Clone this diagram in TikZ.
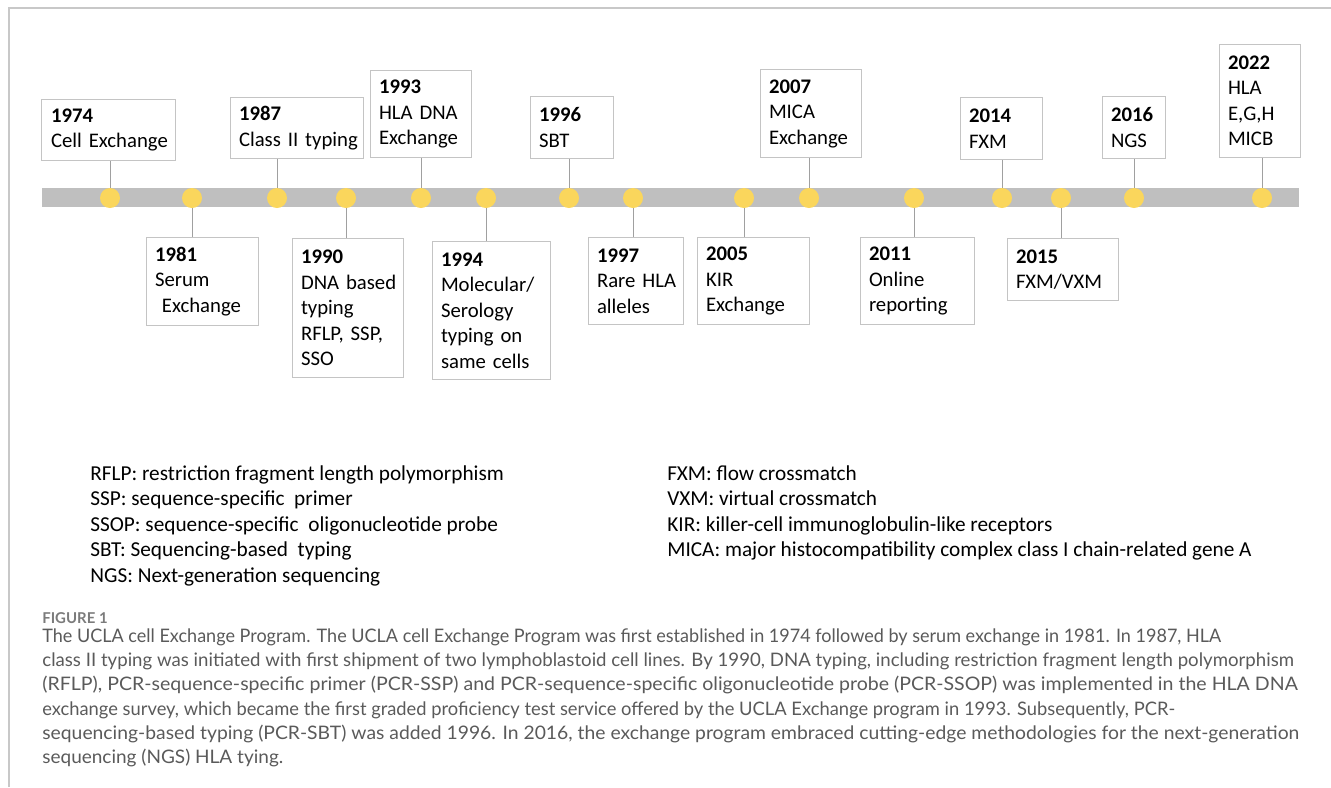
\documentclass[tikz,border=0pt]{standalone}
\usepackage{fontspec}
\setmainfont{Carlito}
\newfontfamily\capfont{Lato}
\definecolor{bargray}{RGB}{191,191,191}
\definecolor{boxgray}{RGB}{196,196,196}
\definecolor{linegray}{RGB}{160,160,160}
\definecolor{framegray}{RGB}{200,200,200}
\definecolor{dotyellow}{RGB}{250,214,92}
\definecolor{captext}{RGB}{90,90,90}
\hyphenpenalty=10000
\exhyphenpenalty=10000
\tikzset{
  evbox/.style={draw=boxgray, line width=0.2mm, fill=white, align=left,
    inner xsep=1.8mm, inner ysep=0pt, font=\fontsize{11.8pt}{14.5pt}\selectfont},
  evdot/.style={circle, fill=dotyellow, minimum size=4mm, inner sep=0pt},
  conn/.style={draw=linegray, line width=0.2mm},
  legend/.style={anchor=north west, inner sep=0pt, align=left,
    font=\fontsize{12.1pt}{14.5pt}\selectfont},
}

\begin{document}
\begin{tikzpicture}[x=0.2mm, y=-0.2mm]
    \useasboundingbox (0,0) rectangle (1331,787);
    \draw[framegray, line width=0.25mm] (9,787) -- (9,8) -- (1331,8);

    \node[fill=bargray, minimum width=251.4mm, minimum height=3.8mm, inner sep=0pt] (bar) at (670.5,197.5) {};

    \foreach \yr/\px in {1974/110, 1981/192, 1987/277, 1990/346, 1993/421, 1994/486,
        1996/569, 1997/633, 2005/744, 2007/809, 2011/914, 2014/1002, 2015/1061,
        2016/1134, 2022/1262}
        \node[evdot] (d\yr) at (\px,198) {};

    % above the bar
    \node[evbox, text width=23.0mm, minimum height=12.2mm] (b1974) at (108.5,130) {\textbf{1974}\\Cell~Exchange};
    \node[evbox, text width=23.0mm, minimum height=12.2mm] (b1987) at (296.5,128) {\textbf{1987}\\Class~II~typing};
    \node[evbox, text width=16.6mm, minimum height=17.4mm] (b1993) at (420.5,114) {\textbf{1993}\\HLA~DNA\\Exchange};
    \node[evbox, text width=13.0mm, minimum height=12.4mm] (b1996) at (571.5,127.5) {\textbf{1996}\\SBT};
    \node[evbox, text width=16.6mm, minimum height=17.6mm] (b2007) at (810.5,113.5) {\textbf{2007}\\MICA\\Exchange};
    \node[evbox, text width=12.8mm, minimum height=12.4mm] (b2014) at (1001,128.5) {\textbf{2014}\\FXM};
    \node[evbox, text width=9.0mm, minimum height=12.4mm] (b2016) at (1133.5,127.5) {\textbf{2016}\\NGS};
    \node[evbox, text width=12.6mm, minimum height=22.6mm] (b2022) at (1259.5,101) {\textbf{2022}\\HLA\\E,G,H\\MICB};

    % below the bar
    \node[evbox, text width=18.8mm, minimum height=17.6mm] (b1981) at (202,281.5) {\textbf{1981}\\Serum\\\ Exchange};
    \node[evbox, text width=18.6mm, minimum height=27.8mm] (b1990) at (347.5,308) {\textbf{1990}\\DNA~based\\typing\\RFLP,~SSP,\\SSO};
    \node[evbox, text width=20.0mm, minimum height=27.6mm] (b1994) at (491,310.5) {\textbf{1994}\\Molecular/\\Serology\\typing~on\\same~cells};
    \node[evbox, text width=15.4mm, minimum height=17.4mm] (b1997) at (635.5,281) {\textbf{1997}\\Rare~HLA\\alleles};
    \node[evbox, text width=18.8mm, minimum height=17.4mm] (b2005) at (753,281) {\textbf{2005}\\KIR\\Exchange};
    \node[evbox, text width=19.2mm, minimum height=17.4mm] (b2011) at (917,281) {\textbf{2011}\\Online\\reporting};
    \node[evbox, text width=18.6mm, minimum height=12.4mm] (b2015) at (1062.5,269.5) {\textbf{2015}\\FXM/VXM};

    \foreach \yr in {1974,1987,1993,1996,2007,2014,2016,2022}
        \draw[conn] (d\yr.north |- b\yr.south) -- (d\yr.north);
    \foreach \yr in {1981,1990,1994,1997,2005,2011,2015}
        \draw[conn] (d\yr.south) -- (d\yr.south |- b\yr.north);

    \node[legend] (abbr1) at (90,465) {RFLP: restriction fragment length polymorphism\\
        SSP: sequence-specific\ \ primer\\
        SSOP: sequence-specific\ \ oligonucleotide probe\\
        SBT: Sequencing-based\ \ typing\\
        NGS: Next-generation sequencing};
    \node[legend] (abbr2) at (667,465) {FXM: flow crossmatch\\
        VXM: virtual crossmatch\\
        KIR: killer-cell immunoglobulin-like receptors\\
        MICA: major histocompatibility complex class I chain-related gene A};

    \node[anchor=west, inner sep=0pt, text=captext!80!white, font=\capfont\bfseries\fontsize{8.5pt}{10pt}\selectfont] (fig) at (42,618) {FIGURE 1};
    \node[anchor=north west, inner sep=0pt, align=left, text=captext,
        font=\capfont\fontsize{10.6pt}{13.85pt}\selectfont] (caption) at (42,628)
        {\scalebox{0.968}[1]{The UCLA cell Exchange Program. The UCLA cell Exchange Program was first established in 1974 followed by serum exchange in 1981. In 1987, HLA}\\
        class II typing was initiated with first shipment of two lymphoblastoid cell lines. By 1990, DNA typing, including restriction fragment length polymorphism\\
        \scalebox{1.049}[1]{(RFLP), PCR-sequence-specific primer (PCR-SSP) and PCR-sequence-specific oligonucleotide probe (PCR-SSOP) was implemented in the HLA DNA}\\
        \scalebox{0.984}[1]{exchange survey, which became the first graded proficiency test service offered by the UCLA Exchange program in 1993. Subsequently, PCR-}\\
        \scalebox{1.037}[1]{sequencing-based typing (PCR-SBT) was added 1996. In 2016, the exchange program embraced cutting-edge methodologies for the next-generation}\\
        \scalebox{1.02}[1]{sequencing (NGS) HLA tying.}};
\end{tikzpicture}
\end{document}
